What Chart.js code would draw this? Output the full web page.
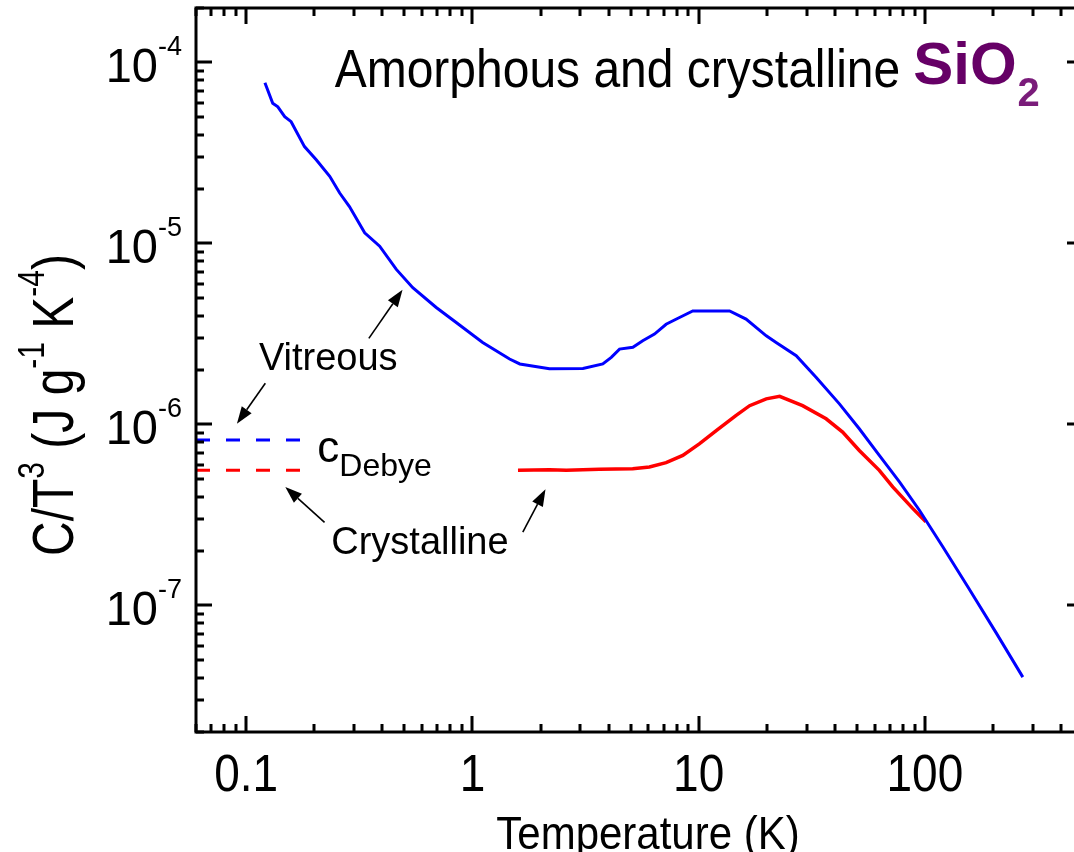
<!DOCTYPE html>
<html>
<head>
<meta charset="utf-8">
<title>SiO2 C/T3</title>
<script src="https://cdn.jsdelivr.net/npm/chart.js@4/dist/chart.umd.min.js"></script>
<style>
html,body{margin:0;padding:0;background:#fff;overflow:hidden;}
#wrap{width:1100px;height:852px;position:relative;}
</style>
</head>
<body>
<div id="wrap"><canvas id="c"></canvas></div>
<script>
// vitreous SiO2 : T (K) and C/T^3 (J g^-1 K^-4)
var vitT = [0.121,0.131,0.138,0.148,0.158,0.181,0.204,0.234,0.259,0.286,0.334,0.389,0.461,0.545,0.692,0.848,1.11,1.46,1.62,2.19,3.08,3.77,4.11,4.47,5.12,5.66,6.38,7.18,8.23,9.42,11.2,13.7,16.2,19.9,22.0,27.0,33.1,41.9,51.3,62.9,77.2,94.6,120,156,206,271];
var vitC = [7.72e-5,5.95e-5,5.69e-5,5.02e-5,4.71e-5,3.43e-5,2.90e-5,2.35e-5,1.90e-5,1.60e-5,1.145e-5,9.66e-6,7.19e-6,5.70e-6,4.43e-6,3.66e-6,2.84e-6,2.30e-6,2.16e-6,2.03e-6,2.04e-6,2.16e-6,2.35e-6,2.61e-6,2.67e-6,2.90e-6,3.16e-6,3.58e-6,3.90e-6,4.24e-6,4.24e-6,4.24e-6,3.82e-6,3.09e-6,2.84e-6,2.40e-6,1.82e-6,1.30e-6,9.47e-7,6.75e-7,4.82e-7,3.36e-7,2.11e-7,1.25e-7,7.10e-8,4.02e-8];

// crystalline SiO2
var cryT = [1.59,2.19,2.60,3.64,5.11,6.06,7.18,8.51,10.1,12.0,14.6,16.8,19.9,22.8,28.8,36.6,43.3,51.3,62.9,72.1,88.3,101];
var cryC = [5.58e-7,5.63e-7,5.58e-7,5.65e-7,5.70e-7,5.83e-7,6.15e-7,6.75e-7,7.83e-7,9.27e-7,1.12e-6,1.27e-6,1.385e-6,1.43e-6,1.27e-6,1.075e-6,9.08e-7,7.19e-7,5.58e-7,4.52e-7,3.44e-7,2.9e-7];

// Debye levels (dashed)
var debyeT = [0.06, 0.203];
var debyeVit = [8.2e-7, 8.2e-7];
var debyeCry = [5.58e-7, 5.58e-7];

// axes
var xMin = 0.06, xMax = 500, yMin = 2e-8, yMax = 2e-4;
var xMajor = [0.1, 1, 10, 100];
var xLabels = ['0.1', '1', '10', '100'];
var yMajor = [1e-7, 1e-6, 1e-5, 1e-4];
var yExp = ['-7', '-6', '-5', '-4'];

// annotation arrows, tail -> head, in data units [T0, C0, T1, C1]
var arrows = [
  [0.3485, 2.99e-6, 0.491, 5.55e-6],
  [0.1215, 1.69e-6, 0.0910, 1.01e-6],
  [0.222, 2.88e-7, 0.1489, 4.52e-7],
  [1.670, 2.54e-7, 2.104, 4.39e-7]
];

function pts(xs, ys) {
  return xs.map(function (x, i) { return {x: x, y: ys[i]}; });
}

var FAM = '"Liberation Sans", Arial, Helvetica, sans-serif';
function fnt(size, bold) { return (bold ? 'bold ' : '') + size + 'px ' + FAM; }

// parts: [text, size, dy, color]
function rich(ctx, parts, x, y, opt) {
  opt = opt || {};
  ctx.save();
  ctx.translate(x, y);
  if (opt.rot) ctx.rotate(opt.rot);
  ctx.scale(1, opt.k || 1);
  ctx.textBaseline = 'alphabetic';
  ctx.textAlign = 'left';
  var total = 0;
  parts.forEach(function (p) { ctx.font = fnt(p[1], opt.bold); total += ctx.measureText(p[0]).width; });
  var cx = opt.align === 'right' ? -total : (opt.align === 'center' ? -total / 2 : 0);
  parts.forEach(function (p) {
    ctx.font = fnt(p[1], opt.bold);
    ctx.fillStyle = p[3] || opt.color || '#000';
    ctx.fillText(p[0], cx, p[2] || 0);
    cx += ctx.measureText(p[0]).width;
  });
  ctx.restore();
  return total;
}

function arrow(ctx, x0, y0, x1, y1) {
  var a = Math.atan2(y1 - y0, x1 - x0), L = 17, W = 6;
  var bx = x1 - L * Math.cos(a), by = y1 - L * Math.sin(a);
  ctx.save();
  ctx.strokeStyle = '#000';
  ctx.fillStyle = '#000';
  ctx.lineWidth = 1.6;
  ctx.beginPath();
  ctx.moveTo(x0, y0);
  ctx.lineTo(bx, by);
  ctx.stroke();
  ctx.beginPath();
  ctx.moveTo(x1, y1);
  ctx.lineTo(bx + W * Math.sin(a), by - W * Math.cos(a));
  ctx.lineTo(bx - W * Math.sin(a), by + W * Math.cos(a));
  ctx.closePath();
  ctx.fill();
  ctx.restore();
}

var decor = {
  id: 'decor',
  afterDraw: function (chart) {
    var ctx = chart.ctx, a = chart.chartArea;
    var xs = chart.scales.x, ys = chart.scales.y;
    ctx.save();
    ctx.strokeStyle = '#000';
    ctx.lineWidth = 3;
    ctx.strokeRect(a.left, a.top, a.right - a.left, a.bottom - a.top);

    // ticks (inward, on all four sides)
    var d, m, v, p, len;
    ctx.beginPath();
    for (d = -3; d <= 3; d++) {
      for (m = 1; m <= 9; m++) {
        v = m * Math.pow(10, d);
        len = m === 1 ? 16 : 8;
        if (v >= xMin && v <= xMax) {
          p = Math.round(xs.getPixelForValue(v));
          ctx.moveTo(p, a.bottom); ctx.lineTo(p, a.bottom - len);
          ctx.moveTo(p, a.top); ctx.lineTo(p, a.top + len);
        }
        v = m * Math.pow(10, d - 6);
        if (v >= yMin && v <= yMax) {
          p = Math.round(ys.getPixelForValue(v));
          ctx.moveTo(a.left, p); ctx.lineTo(a.left + len, p);
          ctx.moveTo(a.right, p); ctx.lineTo(a.right - len, p);
        }
      }
    }
    ctx.stroke();
    ctx.restore();

    // tick labels
    xMajor.forEach(function (v, i) {
      rich(ctx, [[xLabels[i], 46]], xs.getPixelForValue(v), 791, {align: 'center', k: 1.12});
    });
    yMajor.forEach(function (v, i) {
      rich(ctx, [['10', 47], [yExp[i], 27, -26]], a.left - 14, ys.getPixelForValue(v) + 20, {align: 'right', k: 1.04});
    });

    // axis titles
    rich(ctx, [['Temperature (K)', 42]], 648, 849, {align: 'center', k: 1.1});
    rich(ctx, [['C/T', 48], ['3', 30, -24], [' (J g', 48], ['-1', 30, -24], [' K', 48], ['-4', 30, -24], [')', 48]],
      73, 405, {align: 'center', rot: -Math.PI / 2, k: 1.2});

    // in-plot texts, positioned in data units
    var tx = xs.getPixelForValue(0.246), ty = ys.getPixelForValue(7.4e-5);
    var w = rich(ctx, [['Amorphous and crystalline', 48]], tx, ty + 1, {k: 1.12});
    var w2 = rich(ctx, [['SiO', 60]], tx + w + 13, ty - 2, {bold: true, color: '#660066'});
    rich(ctx, [['2', 40]], tx + w + 14 + w2, ty + 20, {bold: true, color: '#7a1c7a'});

    rich(ctx, [['Vitreous', 38]], xs.getPixelForValue(0.1138), ys.getPixelForValue(2.0e-6));
    rich(ctx, [['Crystalline', 38]], xs.getPixelForValue(0.2377), ys.getPixelForValue(1.92e-7));
    var cx = xs.getPixelForValue(0.2062), cy = ys.getPixelForValue(6.21e-7);
    rich(ctx, [['c', 44], ['Debye', 32, 14]], cx, cy);

    arrows.forEach(function (r) {
      arrow(ctx, xs.getPixelForValue(r[0]), ys.getPixelForValue(r[1]), xs.getPixelForValue(r[2]), ys.getPixelForValue(r[3]));
    });
  }
};

new Chart(document.getElementById('c'), {
  type: 'line',
  data: {
    datasets: [
      {data: pts(vitT, vitC), borderColor: '#0000ff', borderWidth: 3},
      {data: pts(cryT, cryC), borderColor: '#ff0000', borderWidth: 3.5},
      {data: pts(debyeT, debyeVit), borderColor: '#0000ff', borderWidth: 3, borderDash: [14, 16]},
      {data: pts(debyeT, debyeCry), borderColor: '#ff0000', borderWidth: 3, borderDash: [14, 16]}
    ]
  },
  options: {
    responsive: true,
    maintainAspectRatio: false,
    animation: false,
    elements: {point: {radius: 0}, line: {tension: 0, fill: false}},
    layout: {padding: {left: 196, right: 17, top: 8, bottom: 120}},
    scales: {
      x: {type: 'logarithmic', min: xMin, max: xMax, display: false},
      y: {type: 'logarithmic', min: yMin, max: yMax, display: false}
    },
    plugins: {legend: {display: false}, tooltip: {enabled: false}}
  },
  plugins: [decor]
});
</script>
</body>
</html>
